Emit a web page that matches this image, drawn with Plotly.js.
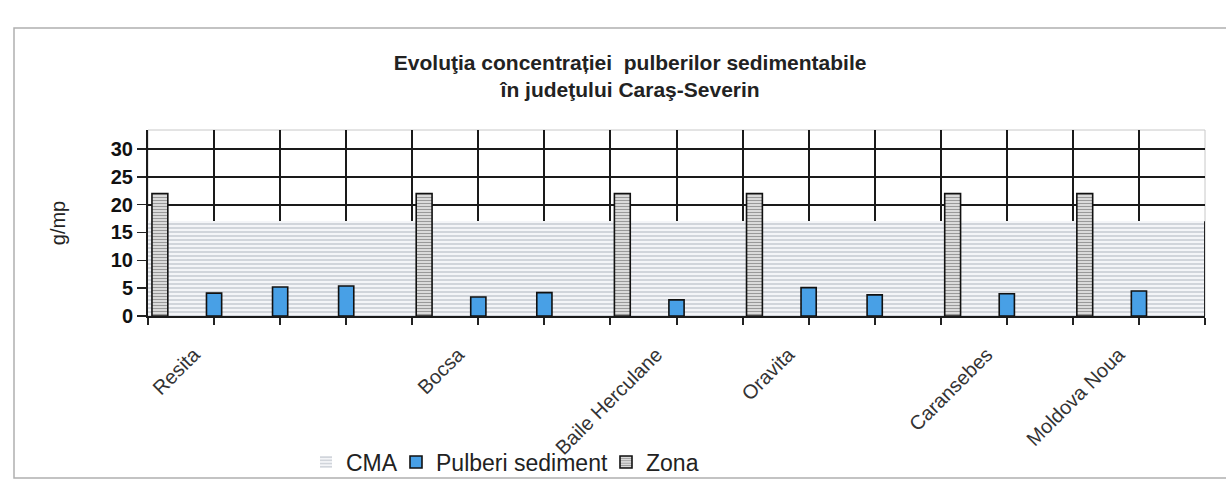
<!DOCTYPE html>
<html>
<head>
<meta charset="utf-8">
<script src="https://cdn.plot.ly/plotly-3.0.1.min.js"></script>
<style>html,body{margin:0;padding:0;background:#fff;}#chart{width:1226px;height:502px;}</style>
</head>
<body>
<div id="chart"></div>
<script>
// ---- data ----
const categories = ['Resita','','','','Bocsa','','','Baile Herculane','','Oravita','','','Caransebes','','Moldova Noua',''];
const cmaValues = [17,17,17,17,17,17,17,17,17,17,17,17,17,17,17,17];
const pulberiValues = [null,4.1,5.2,5.4,null,3.4,4.2,null,2.9,null,5.1,3.8,null,4.0,null,4.5];
const zonaValues = [22,null,null,null,22,null,null,22,null,22,null,null,22,null,22,null];
const yTickValues = [0,5,10,15,20,25,30];

const idx = categories.map((_, i) => i);
const n = categories.length;
const FONT = 'Liberation Sans, Arial, sans-serif';

// layout geometry (pixels)
const W = 1226, H = 502;
const M = {l: 148, r: 21, t: 130, b: 186};
const pw = W - M.l - M.r, ph = H - M.t - M.b;
const px2x = p => (p - M.l) / pw;
const py2y = p => (H - M.b - p) / ph;

const traces = [
  {
    type: 'bar', name: 'CMA', x: idx, y: cmaValues, legend: 'legend',
    width: 1, offset: 0, opacity: 1,
    marker: {color: '#f2f3f6', line: {width: 0},
      pattern: {shape: '-', fillmode: 'replace', fgcolor: '#c3c7cf', bgcolor: '#f4f5f8', size: 4, solidity: 0.35}},
    hoverinfo: 'skip'
  },
  {
    type: 'bar', name: 'Pulberi sediment', x: idx, y: pulberiValues, legend: 'legend2',
    width: 0.23, offset: -0.115, opacity: 1,
    marker: {color: '#48a0e6', line: {color: '#111', width: 1.6}},
    hoverinfo: 'skip'
  },
  {
    type: 'bar', name: 'Zona', x: idx, y: zonaValues, legend: 'legend3',
    width: 0.24, offset: 0.06, opacity: 1,
    marker: {color: '#d8d8d8', line: {color: '#111', width: 1.6},
      pattern: {shape: '-', fillmode: 'replace', fgcolor: '#999', bgcolor: '#e2e2e2', size: 3, solidity: 0.4}},
    hoverinfo: 'skip'
  },
  {
    type: 'scatter', mode: 'lines', x: [n, n], y: [0, cmaValues[n - 1]],
    line: {color: '#222', width: 2}, showlegend: false, hoverinfo: 'skip'
  }
];

const legendBase = (xpx) => ({
  orientation: 'h',
  x: px2x(xpx), xanchor: 'left',
  y: py2y(462), yanchor: 'middle',
  font: {family: FONT, size: 23, color: '#222'},
  itemwidth: 30,
  bgcolor: 'rgba(0,0,0,0)'
});

const layout = {
  width: W, height: H,
  margin: M,
  paper_bgcolor: '#ffffff', plot_bgcolor: '#ffffff',
  barmode: 'overlay',
  bargap: 0,
  font: {family: FONT, color: '#222'},
  showlegend: true,
  title: {
    text: '<b>Evoluţia concentrației  pulberilor sedimentabile<br>în judeţului Caraş-Severin</b>',
    font: {family: FONT, size: 21, color: '#222'},
    xref: 'container', x: 0.514, xanchor: 'center',
    yref: 'container', y: 1 - 70 / H, yanchor: 'middle'
  },
  xaxis: {
    range: [0, n], type: 'linear',
    tickvals: idx, ticktext: categories,
    tickangle: -45, tickfont: {family: FONT, size: 20, color: '#333'},
    ticks: 'outside', ticklen: 7, tickwidth: 2, tickcolor: '#222',
    ticklabelstandoff: 10, ticklabelshift: 46,
    showgrid: true, gridcolor: '#1a1a1a', gridwidth: 2,
    showline: true, linecolor: '#1a1a1a', linewidth: 2,
    zeroline: false, fixedrange: true,
    minor: {dtick: 1, tick0: 0, ticks: 'outside', ticklen: 7, tickwidth: 2, tickcolor: '#222', showgrid: false}
  },
  yaxis: {
    range: [0, 33.4],
    tickvals: yTickValues,
    tickfont: {family: FONT, size: 20, color: '#111', weight: 'bold'},
    ticks: 'outside', ticklen: 9, tickwidth: 1.5, tickcolor: '#222',
    showgrid: true, gridcolor: '#1a1a1a', gridwidth: 2,
    showline: true, linecolor: '#1a1a1a', linewidth: 2,
    zeroline: false, fixedrange: true,
    title: {text: 'g/mp', font: {family: FONT, size: 20, color: '#222'}, standoff: 40},
    automargin: false
  },
  legend: legendBase(306),
  legend2: legendBase(396),
  legend3: legendBase(606),
  shapes: [
    {type: 'rect', xref: 'paper', yref: 'paper', x0: 0, x1: 1, y0: 0, y1: 1,
     line: {color: '#c8c8c8', width: 1}, layer: 'below'},
    {type: 'rect', xref: 'paper', yref: 'paper',
     x0: px2x(14), x1: px2x(1240), y0: py2y(478), y1: py2y(28),
     line: {color: '#b0b0b0', width: 1.5}, layer: 'below'}
  ]
};

Plotly.newPlot('chart', traces, layout, {staticPlot: true, displayModeBar: false});
</script>
</body>
</html>
